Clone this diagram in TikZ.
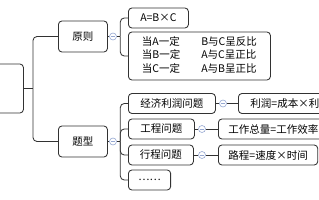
\documentclass[tikz,border=0pt]{standalone}
\usepackage{fontspec}
\setmainfont{Noto Sans CJK SC}
\usetikzlibrary{positioning,calc}
\definecolor{LineGray}{RGB}{50,50,50}
\definecolor{FoldBlue}{RGB}{150,168,210}

\begin{document}
\begin{tikzpicture}[x=1pt, y=-1pt,
  every node/.style={font=\fontsize{10.5}{13.5}\selectfont},
  box/.style={draw=LineGray, line width=0.85pt, rounded corners=3.5pt, fill=white, anchor=west, inner xsep=10pt, minimum height=20pt},
  fold/.style={circle, draw=FoldBlue, line width=0.6pt, fill=white, minimum size=7pt, inner sep=0pt,
    path picture={\draw[FoldBlue, line width=0.6pt] ($(path picture bounding box.center)+(-2pt,0pt)$) -- ++(4pt,0pt);}},
  conn/.style={draw=LineGray, line width=0.85pt, rounded corners=4pt}]
  \useasboundingbox (0,0) rectangle (319,200);
  \clip (0,0) rectangle (319,200);

  \node[box, minimum width=63pt, minimum height=49pt] (root) at (-40,88.5) {};
  \node[box, minimum width=49pt, minimum height=31pt] (yuanze) at (58,36.5) {原则};
  \node[box, minimum width=49pt, minimum height=31pt] (tixing) at (58,141.5) {题型};
  \coordinate (hub) at (33,88.5);
  \draw[conn] (root.east) -- (hub);
  \draw[conn] (hub) |- (yuanze.west);
  \draw[conn] (hub) |- (tixing.west);

  % 原则
  \node[fold] (f1) at (113,36.5) {};
  \node[box, minimum width=60pt] (abc) at (128,18) {A=B×C};
  \node[box, minimum width=142pt, minimum height=48pt, inner xsep=4pt] (rule) at (128,56)
    {\begin{tabular}{@{}l@{\hspace{21pt}}l@{}}
      当A一定 & B与C呈反比\\
      当B一定 & A与C呈正比\\
      当C一定 & A与B呈正比
    \end{tabular}};
  \draw[conn] (yuanze.east) -- (f1.west);
  \draw[conn] (f1.east) -- ++(3.5,0) coordinate (b1);
  \draw[conn] (b1) |- (abc.west);
  \draw[conn] (b1) |- (rule.west);

  % 题型
  \node[fold] (f2) at (113,141.5) {};
  \node[box, minimum width=87pt] (jingji) at (128,103.5) {经济利润问题};
  \node[box, minimum width=66pt] (gongcheng) at (128,129) {工程问题};
  \node[box, minimum width=65pt] (xingcheng) at (128,155) {行程问题};
  \node[box, minimum width=42pt] (more) at (128,180) {……};
  \draw[conn] (tixing.east) -- (f2.west);
  \draw[conn] (f2.east) -- ++(3.5,0) coordinate (b2);
  \draw[conn] (b2) |- (jingji.west);
  \draw[conn] (b2) |- (gongcheng.west);
  \draw[conn] (b2) |- (xingcheng.west);
  \draw[conn] (b2) |- (more.west);

  \node[fold] (f3) at (223,103.5) {};
  \node[box, inner xsep=12pt] (lirun) at (238,103.5) {利润=成本×利润率};
  \draw[conn] (jingji.east) -- (f3.west);
  \draw[conn] (f3.east) -- (lirun.west);

  \node[fold] (f4) at (202,129) {};
  \node[box] (gongzuo) at (218,129) {工作总量=工作效率×工作时间};
  \draw[conn] (gongcheng.east) -- (f4.west);
  \draw[conn] (f4.east) -- (gongzuo.west);

  \node[fold] (f5) at (202,155) {};
  \node[box] (lucheng) at (218,155) {路程=速度×时间};
  \draw[conn] (xingcheng.east) -- (f5.west);
  \draw[conn] (f5.east) -- (lucheng.west);
\end{tikzpicture}
\end{document}
